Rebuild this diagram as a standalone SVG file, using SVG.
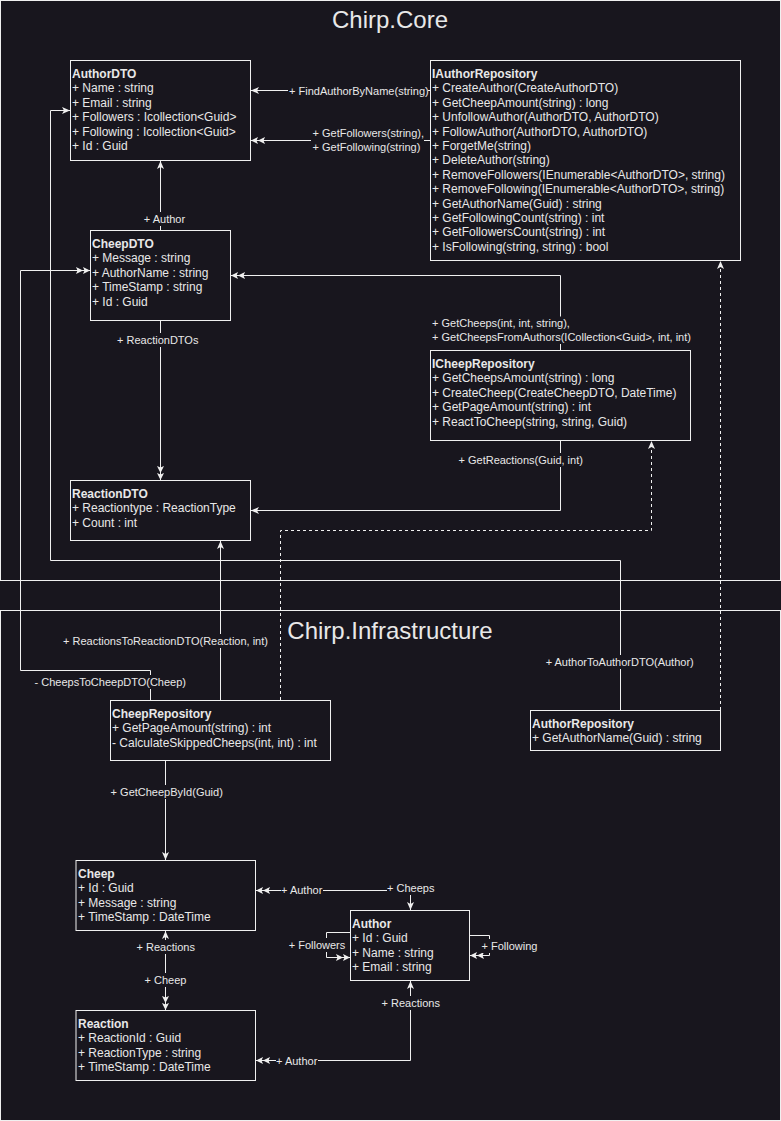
<svg xmlns="http://www.w3.org/2000/svg" width="781" height="1121" viewBox="0 0 781 1121">
<style>
.bg{fill:#18161e}
.frame{fill:none;stroke:#f0f0f0;stroke-width:1}
.box{fill:#18161e;stroke:#f0f0f0;stroke-width:1}
.ln{fill:none;stroke:#f0f0f0;stroke-width:1}
.dash{stroke-dasharray:3 3}
.t{font-family:"Liberation Sans",Arial,sans-serif;font-size:12px;fill:#e8e8e8}
.b{font-weight:bold}
.el{font-family:"Liberation Sans",Arial,sans-serif;font-size:11px;fill:#e8e8e8}
.lb{fill:#18161e}
.title{font-family:"Liberation Sans",Arial,sans-serif;font-size:24px;fill:#e8e8e8;text-anchor:middle}
</style>
<defs>
<marker id="a1" viewBox="0 0 8 8" markerWidth="8" markerHeight="8" refX="8" refY="4" orient="auto-start-reverse" markerUnits="userSpaceOnUse">
<path d="M0,0.5 L8,4 L0,7.5 L2,4 z" fill="#f0f0f0"/>
</marker>
<marker id="a2" viewBox="0 0 14 8" markerWidth="14" markerHeight="8" refX="14" refY="4" orient="auto-start-reverse" markerUnits="userSpaceOnUse">
<path d="M0,0.5 L7,4 L0,7.5 L1.5,4 z M7,0.5 L14,4 L7,7.5 L8.5,4 z" fill="#f0f0f0"/>
</marker>
</defs>
<rect class="bg" x="0" y="0" width="781" height="1121"/>
<g id="frames">
<rect class="frame" x="0.5" y="0.5" width="780" height="580"/>
<text class="title" x="390" y="28">Chirp.Core</text>
<rect class="frame" x="0.5" y="610.5" width="780" height="510"/>
<text class="title" x="390" y="639">Chirp.Infrastructure</text>
</g>
<g id="connectors">
<path class="ln" d="M430,90.5 L251,90.5" marker-end="url(#a1)"/>
<path class="ln" d="M430,140.5 L251,140.5" marker-end="url(#a2)"/>
<path class="ln" d="M160.5,230 L160.5,161" marker-end="url(#a1)"/>
<path class="ln" d="M160.5,320 L160.5,480" marker-end="url(#a2)"/>
<path class="ln" d="M560.5,350 L560.5,275.5 L231,275.5" marker-end="url(#a2)"/>
<path class="ln" d="M560.5,440 L560.5,510.5 L251,510.5" marker-end="url(#a1)"/>
<path class="ln dash" d="M280.5,700 L280.5,530.5 L651.5,530.5 L651.5,441" marker-end="url(#a1)"/>
<path class="ln dash" d="M720.5,710 L720.5,261" marker-end="url(#a1)"/>
<path class="ln" d="M150.5,700 L150.5,670.5 L20.5,670.5 L20.5,270.5 L90,270.5" marker-end="url(#a2)"/>
<path class="ln" d="M220.5,700 L220.5,541" marker-end="url(#a1)"/>
<path class="ln" d="M620.5,710 L620.5,560.5 L50.5,560.5 L50.5,110.5 L70,110.5" marker-end="url(#a1)"/>
<path class="ln" d="M165.5,760 L165.5,860" marker-end="url(#a1)"/>
<path class="ln" d="M256,890.5 L410.5,890.5 L410.5,910" marker-start="url(#a2)" marker-end="url(#a1)"/>
<path class="ln" d="M350,932.5 L326.5,932.5 L326.5,957.5 L350,957.5" marker-end="url(#a2)"/>
<path class="ln" d="M469.5,935.5 L489.5,935.5 L489.5,955.5 L470,955.5" marker-end="url(#a2)"/>
<path class="ln" d="M165.5,931 L165.5,1010" marker-start="url(#a1)" marker-end="url(#a2)"/>
<path class="ln" d="M256,1060.5 L410.5,1060.5 L410.5,981" marker-start="url(#a2)" marker-end="url(#a1)"/>

<rect class="lb" x="288" y="84" width="140" height="14"/>
<text class="el" x="289" y="95">+ FindAuthorByName(string)</text>
<rect class="lb" x="311" y="126" width="113" height="28"/>
<text class="el" x="312.5" y="137.3">+ GetFollowers(string),</text>
<text class="el" x="312.5" y="151.3">+ GetFollowing(string)</text>
<rect class="lb" x="143" y="212" width="43" height="14"/>
<text class="el" x="164.5" y="223" text-anchor="middle">+ Author</text>
<rect class="lb" x="116" y="333" width="83" height="14"/>
<text class="el" x="157.7" y="344" text-anchor="middle">+ ReactionDTOs</text>
<rect class="lb" x="431" y="316.5" width="260" height="27.5"/>
<text class="el" x="432" y="327.3">+ GetCheeps(int, int, string),</text>
<text class="el" x="432" y="341.3">+ GetCheepsFromAuthors(ICollection&lt;Guid&gt;, int, int)</text>
<rect class="lb" x="458" y="453" width="126" height="14"/>
<text class="el" x="520.7" y="464" text-anchor="middle">+ GetReactions(Guid, int)</text>
<rect class="lb" x="33" y="675" width="155" height="14"/>
<text class="el" x="110.3" y="685.7" text-anchor="middle">- CheepsToCheepDTO(Cheep)</text>
<rect class="lb" x="62" y="634" width="207" height="14"/>
<text class="el" x="165.5" y="644.7" text-anchor="middle">+ ReactionsToReactionDTO(Reaction, int)</text>
<rect class="lb" x="545" y="655" width="150" height="14"/>
<text class="el" x="619.7" y="666.3" text-anchor="middle">+ AuthorToAuthorDTO(Author)</text>
<rect class="lb" x="110" y="785" width="114" height="14"/>
<text class="el" x="166.7" y="795.7" text-anchor="middle">+ GetCheepById(Guid)</text>
<rect class="lb" x="281" y="883" width="42" height="14"/>
<text class="el" x="301.7" y="894" text-anchor="middle">+ Author</text>
<rect class="lb" x="387" y="881" width="48" height="14"/>
<text class="el" x="410.7" y="892.3" text-anchor="middle">+ Cheeps</text>
<rect class="lb" x="288" y="938" width="58" height="14"/>
<text class="el" x="317" y="949.3" text-anchor="middle">+ Followers</text>
<rect class="lb" x="481" y="939" width="57" height="14"/>
<text class="el" x="509.5" y="950.3" text-anchor="middle">+ Following</text>
<rect class="lb" x="136" y="940" width="60" height="14"/>
<text class="el" x="165.7" y="951.3" text-anchor="middle">+ Reactions</text>
<rect class="lb" x="144" y="973" width="43" height="14"/>
<text class="el" x="165.5" y="984" text-anchor="middle">+ Cheep</text>
<rect class="lb" x="276" y="1054" width="42" height="14"/>
<text class="el" x="296.7" y="1064.7" text-anchor="middle">+ Author</text>
<rect class="lb" x="381" y="996" width="60" height="14"/>
<text class="el" x="410.7" y="1007" text-anchor="middle">+ Reactions</text>
</g>

<g id="AuthorDTO">
<rect class="box" x="70.5" y="60.5" width="180" height="100"/>
<text class="t" x="72" y="78"><tspan class="b">AuthorDTO</tspan><tspan x="72" dy="14.4">+ Name : string</tspan><tspan x="72" dy="14.4">+ Email : string</tspan><tspan x="72" dy="14.4">+ Followers : Icollection&lt;Guid&gt;</tspan><tspan x="72" dy="14.4">+ Following : Icollection&lt;Guid&gt;</tspan><tspan x="72" dy="14.4">+ Id : Guid</tspan></text>
</g>
<g id="IAuthorRepository">
<rect class="box" x="430.5" y="60.5" width="310" height="200"/>
<text class="t" x="432" y="78"><tspan class="b">IAuthorRepository</tspan><tspan x="432" dy="14.4">+ CreateAuthor(CreateAuthorDTO)</tspan><tspan x="432" dy="14.4">+ GetCheepAmount(string) : long</tspan><tspan x="432" dy="14.4">+ UnfollowAuthor(AuthorDTO, AuthorDTO)</tspan><tspan x="432" dy="14.4">+ FollowAuthor(AuthorDTO, AuthorDTO)</tspan><tspan x="432" dy="14.4">+ ForgetMe(string)</tspan><tspan x="432" dy="14.4">+ DeleteAuthor(string)</tspan><tspan x="432" dy="14.4">+ RemoveFollowers(IEnumerable&lt;AuthorDTO&gt;, string)</tspan><tspan x="432" dy="14.4">+ RemoveFollowing(IEnumerable&lt;AuthorDTO&gt;, string)</tspan><tspan x="432" dy="14.4">+ GetAuthorName(Guid) : string</tspan><tspan x="432" dy="14.4">+ GetFollowingCount(string) : int</tspan><tspan x="432" dy="14.4">+ GetFollowersCount(string) : int</tspan><tspan x="432" dy="14.4">+ IsFollowing(string, string) : bool</tspan></text>
</g>
<g id="CheepDTO">
<rect class="box" x="90.5" y="230.5" width="140" height="90"/>
<text class="t" x="92" y="248"><tspan class="b">CheepDTO</tspan><tspan x="92" dy="14.4">+ Message : string</tspan><tspan x="92" dy="14.4">+ AuthorName : string</tspan><tspan x="92" dy="14.4">+ TimeStamp : string</tspan><tspan x="92" dy="14.4">+ Id : Guid</tspan></text>
</g>
<g id="ICheepRepository">
<rect class="box" x="430.5" y="350.5" width="260" height="90"/>
<text class="t" x="432" y="368"><tspan class="b">ICheepRepository</tspan><tspan x="432" dy="14.4">+ GetCheepsAmount(string) : long</tspan><tspan x="432" dy="14.4">+ CreateCheep(CreateCheepDTO, DateTime)</tspan><tspan x="432" dy="14.4">+ GetPageAmount(string) : int</tspan><tspan x="432" dy="14.4">+ ReactToCheep(string, string, Guid)</tspan></text>
</g>
<g id="ReactionDTO">
<rect class="box" x="70.5" y="480.5" width="180" height="60"/>
<text class="t" x="72" y="498"><tspan class="b">ReactionDTO</tspan><tspan x="72" dy="14.4">+ Reactiontype : ReactionType</tspan><tspan x="72" dy="14.4">+ Count : int</tspan></text>
</g>
<g id="CheepRepository">
<rect class="box" x="110.5" y="700.5" width="220" height="60"/>
<text class="t" x="112" y="718"><tspan class="b">CheepRepository</tspan><tspan x="112" dy="14.4">+ GetPageAmount(string) : int</tspan><tspan x="112" dy="14.4">- CalculateSkippedCheeps(int, int) : int</tspan></text>
</g>
<g id="AuthorRepository">
<rect class="box" x="530.5" y="710.5" width="190" height="40"/>
<text class="t" x="532" y="728"><tspan class="b">AuthorRepository</tspan><tspan x="532" dy="14.4">+ GetAuthorName(Guid) : string</tspan></text>
</g>
<g id="Cheep">
<rect class="box" x="76" y="860.5" width="179.5" height="70"/>
<text class="t" x="78" y="878"><tspan class="b">Cheep</tspan><tspan x="78" dy="14.4">+ Id : Guid</tspan><tspan x="78" dy="14.4">+ Message : string</tspan><tspan x="78" dy="14.4">+ TimeStamp : DateTime</tspan></text>
</g>
<g id="Author">
<rect class="box" x="350.5" y="910.5" width="119" height="70"/>
<text class="t" x="352" y="928"><tspan class="b">Author</tspan><tspan x="352" dy="14.4">+ Id : Guid</tspan><tspan x="352" dy="14.4">+ Name : string</tspan><tspan x="352" dy="14.4">+ Email : string</tspan></text>
</g>
<g id="Reaction">
<rect class="box" x="76" y="1010.5" width="179.5" height="70"/>
<text class="t" x="78" y="1028"><tspan class="b">Reaction</tspan><tspan x="78" dy="14.4">+ ReactionId : Guid</tspan><tspan x="78" dy="14.4">+ ReactionType : string</tspan><tspan x="78" dy="14.4">+ TimeStamp : DateTime</tspan></text>
</g>
</svg>
